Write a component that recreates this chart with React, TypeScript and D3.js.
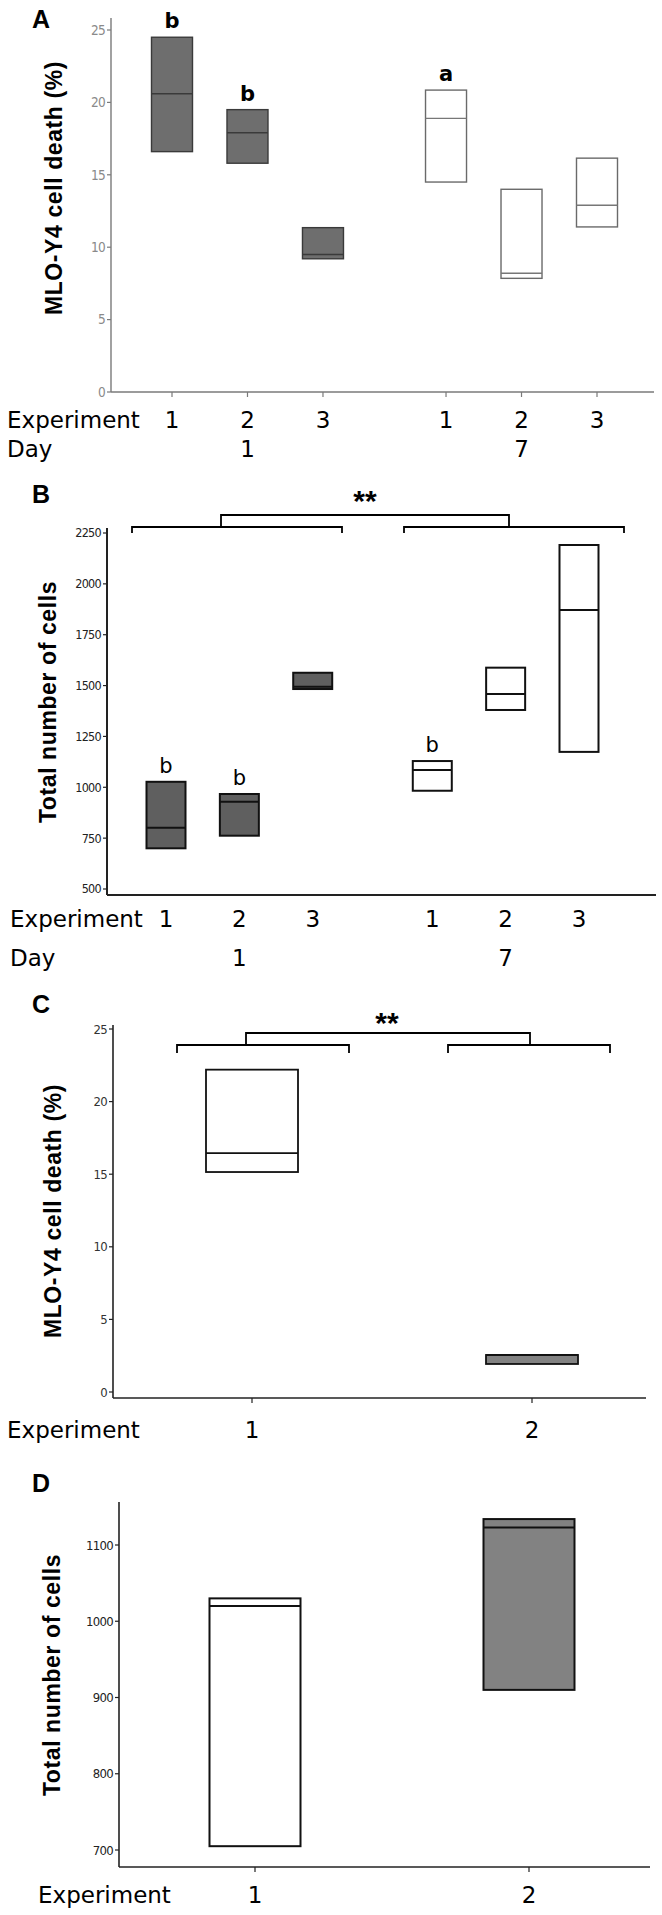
import React from "react";
import * as d3 from "d3";

// ---------- data ----------
const expLabels6 = ["1", "2", "3", "1", "2", "3"];
const groupOf6 = [0, 0, 0, 1, 1, 1];
const idxIn6 = [0, 1, 2, 0, 1, 2];
const dayLabels = ["1", "7"];

// Panel A: MLO-Y4 cell death (%)
const aLow = [16.6, 15.8, 9.2, 14.5, 7.85, 11.4];
const aMed = [20.6, 17.9, 9.5, 18.9, 8.2, 12.9];
const aHigh = [24.5, 19.5, 11.35, 20.85, 14.0, 16.15];
const aLetters = ["b", "b", "", "a", "", ""];
const aTicks = [0, 5, 10, 15, 20, 25];

// Panel B: Total number of cells
const bLow = [700, 762, 1483, 983, 1380, 1174];
const bMed = [801, 929, 1494, 1085, 1459, 1872];
const bHigh = [1027, 967, 1563, 1129, 1588, 2191];
const bLetters = ["b", "b", "", "b", "", ""];
const bTicks = [500, 750, 1000, 1250, 1500, 1750, 2000, 2250];

// Panel C: MLO-Y4 cell death (%)
const expLabels2 = ["1", "2"];
const cLow = [15.15, 1.93];
const cMed = [16.45, 2.55];
const cHigh = [22.2, 2.55];
const cTicks = [0, 5, 10, 15, 20, 25];

// Panel D: Total number of cells
const dLow = [705, 910];
const dMed = [1020, 1123];
const dHigh = [1030, 1134];
const dTicks = [700, 800, 900, 1000, 1100];

const fillA = ["#6e6e6e", "#6e6e6e", "#6e6e6e", "none", "none", "none"];
const fillB = ["#5f5f5f", "#5f5f5f", "#5f5f5f", "none", "none", "none"];
const fillC = ["none", "#828282"];
const fillD = ["none", "#828282"];

const SANS = "'Liberation Sans', Arial, sans-serif";
const DJ = "'DejaVu Sans', Verdana, sans-serif";
const DJC = "'DejaVu Sans Condensed', 'DejaVu Sans', sans-serif";

type PanelProps = {
  letter: string;
  letterY: number;
  title: string;
  titleX: number;
  titleY: number;
  axisX: number;
  axisTop: number;
  axisBottom: number;
  xAxisY: number;
  xAxisRight: number;
  y: d3.ScaleLinear<number, number>;
  ticks: number[];
  xs: number[];
  xLabels: string[];
  boxW: number;
  low: number[];
  med: number[];
  high: number[];
  fills: string[];
  stroke: string;
  openStroke: string;
  medStroke: string[];
  strokeW: number;
  axisColor: string;
  axisW: number;
  tickColor: string;
  tickFont: number;
  letters?: string[];
  letterBold?: boolean;
  expLabelY: number;
  expLabelX: number;
  xTicks: boolean;
  dayY?: number;
  dayXs?: number[];
};

function Panel(p: PanelProps) {
  return (
    <g>
      <text x={32} y={p.letterY} fontFamily={SANS} fontWeight="bold" fontSize={25} fill="#000">
        {p.letter}
      </text>
      <text
        transform={`translate(${p.titleX},${p.titleY}) rotate(-90)`}
        textAnchor="middle"
        fontFamily={SANS}
        fontWeight="bold"
        fontSize={23}
        letterSpacing={0.6}
        fill="#000"
      >
        {p.title}
      </text>
      {/* y axis */}
      <line x1={p.axisX} x2={p.axisX} y1={p.axisTop} y2={p.axisBottom} stroke={p.axisColor} strokeWidth={p.axisW} />
      {p.ticks.map((t) => (
        <g key={t}>
          <line x1={p.axisX - 4} x2={p.axisX} y1={p.y(t)} y2={p.y(t)} stroke={p.axisColor} strokeWidth={1.2} />
          <text
            x={p.axisX - 6}
            y={p.y(t)}
            dy="0.35em"
            textAnchor="end"
            fontFamily={DJC}
            fontSize={p.tickFont}
            fill={p.tickColor}
            letterSpacing={-0.7}
          >
            {t}
          </text>
        </g>
      ))}
      {/* x axis */}
      <line x1={p.axisX} x2={p.xAxisRight} y1={p.xAxisY} y2={p.xAxisY} stroke={p.axisColor} strokeWidth={p.axisW} />
      {p.xTicks &&
        p.xs.map((x, i) => (
          <line key={i} x1={x} x2={x} y1={p.xAxisY} y2={p.xAxisY + 5} stroke={p.axisColor} strokeWidth={1.2} />
        ))}
      {/* boxes */}
      {p.xs.map((x, i) => {
        const top = p.y(p.high[i]);
        const bot = p.y(p.low[i]);
        const filled = p.fills[i] !== "none";
        return (
          <g key={"b" + i}>
            <rect
              x={x - p.boxW / 2}
              y={top}
              width={p.boxW}
              height={bot - top}
              fill={filled ? p.fills[i] : "#fff"}
              stroke={filled ? p.stroke : p.openStroke}
              strokeWidth={p.strokeW}
            />
            <line
              x1={x - p.boxW / 2}
              x2={x + p.boxW / 2}
              y1={p.y(p.med[i])}
              y2={p.y(p.med[i])}
              stroke={p.medStroke[i]}
              strokeWidth={p.strokeW}
            />
            {p.letters && p.letters[i] && (
              <text
                x={x}
                y={top - 9}
                textAnchor="middle"
                fontFamily={DJ}
                fontWeight={p.letterBold ? "bold" : "normal"}
                fontSize={21}
                fill="#000"
              >
                {p.letters[i]}
              </text>
            )}
          </g>
        );
      })}
      {/* category labels */}
      <text x={p.expLabelX} y={p.expLabelY} fontFamily={DJ} fontSize={23} fill="#000">
        Experiment
      </text>
      {p.xs.map((x, i) => (
        <text key={"l" + i} x={x} y={p.expLabelY} textAnchor="middle" fontFamily={DJ} fontSize={23} fill="#000">
          {p.xLabels[i]}
        </text>
      ))}
      {p.dayY !== undefined && p.dayXs && (
        <g>
          <text x={p.expLabelX} y={p.dayY} fontFamily={DJ} fontSize={23} fill="#000">
            Day
          </text>
          {p.dayXs.map((x, i) => (
            <text key={"d" + i} x={x} y={p.dayY} textAnchor="middle" fontFamily={DJ} fontSize={23} fill="#000">
              {dayLabels[i]}
            </text>
          ))}
        </g>
      )}
    </g>
  );
}

function Bracket({ x1, x2, y, h }: { x1: number; x2: number; y: number; h: number }) {
  return (
    <path
      d={`M${x1},${y + h} L${x1},${y} L${x2},${y} L${x2},${y + h}`}
      fill="none"
      stroke="#000"
      strokeWidth={1.8}
    />
  );
}

export default function App() {
  const slot = (i: number) => groupOf6[i] * 3.63 + idxIn6[i];

  // Panel A
  const xA = d3.scaleLinear().domain([0, 5.63]).range([172, 597]);
  const yA = d3.scaleLinear().domain([0, 25]).range([392, 30]);
  const xsA = expLabels6.map((_, i) => xA(slot(i)));

  // Panel B
  const xB = d3.scaleLinear().domain([0, 5.63]).range([166, 579]);
  const yB = d3.scaleLinear().domain([500, 2250]).range([889, 533]);
  const xsB = expLabels6.map((_, i) => xB(slot(i)));

  // Panel C
  const xC = d3.scalePoint<string>().domain(expLabels2).range([252, 532]);
  const yC = d3.scaleLinear().domain([0, 25]).range([1392, 1029]);
  const xsC = expLabels2.map((l) => xC(l) as number);

  // Panel D
  const xD = d3.scalePoint<string>().domain(expLabels2).range([255, 529]);
  const yD = d3.scaleLinear().domain([700, 1100]).range([1850, 1545]);
  const xsD = expLabels2.map((l) => xD(l) as number);

  return (
    <svg
      width={662}
      height={1915}
      viewBox="0 0 662 1915"
      style={{ position: "absolute", left: 0, top: 0, background: "#fff" }}
    >
      <rect x={0} y={0} width={662} height={1915} fill="#fff" />
      <Panel
        letter="A"
        letterY={28}
        title="MLO-Y4  cell death (%)"
        titleX={62}
        titleY={188}
        axisX={111}
        axisTop={18}
        axisBottom={392}
        xAxisY={392}
        xAxisRight={654}
        y={yA}
        ticks={aTicks}
        xs={xsA}
        xLabels={expLabels6}
        boxW={41}
        low={aLow}
        med={aMed}
        high={aHigh}
        fills={fillA}
        stroke="#3a3a3a"
        openStroke="#6a6a6a"
        medStroke={["#3a3a3a", "#3a3a3a", "#3a3a3a", "#777", "#777", "#777"]}
        strokeW={1.4}
        axisColor="#7a7a7a"
        axisW={1.4}
        tickColor="#8a8a8a"
        tickFont={13.5}
        letters={aLetters}
        letterBold={true}
        expLabelY={428}
        expLabelX={7}
        xTicks={true}
        dayY={457}
        dayXs={[xsA[1], xsA[4]]}
      />
      <Panel
        letter="B"
        letterY={503}
        title="Total number of cells"
        titleX={56}
        titleY={702}
        axisX={107}
        axisTop={528}
        axisBottom={895}
        xAxisY={895}
        xAxisRight={656}
        y={yB}
        ticks={bTicks}
        xs={xsB}
        xLabels={expLabels6}
        boxW={39}
        low={bLow}
        med={bMed}
        high={bHigh}
        fills={fillB}
        stroke="#111"
        openStroke="#111"
        medStroke={["#111", "#111", "#111", "#111", "#111", "#111"]}
        strokeW={2}
        axisColor="#222"
        axisW={2}
        tickColor="#222"
        tickFont={12.5}
        letters={bLetters}
        letterBold={false}
        expLabelY={927}
        expLabelX={10}
        xTicks={false}
        dayY={966}
        dayXs={[xsB[1], xsB[4]]}
      />
      <text x={365} y={511} textAnchor="middle" fontFamily={SANS} fontWeight="bold" fontSize={30}>
        **
      </text>
      <Bracket x1={132} x2={342} y={527} h={6} />
      <Bracket x1={404} x2={624} y={527} h={6} />
      <Bracket x1={221} x2={509} y={515} h={12} />

      <Panel
        letter="C"
        letterY={1013}
        title="MLO-Y4  cell death (%)"
        titleX={61}
        titleY={1211}
        axisX={113}
        axisTop={1025}
        axisBottom={1398}
        xAxisY={1398}
        xAxisRight={646}
        y={yC}
        ticks={cTicks}
        xs={xsC}
        xLabels={expLabels2}
        boxW={92}
        low={cLow}
        med={cMed}
        high={cHigh}
        fills={fillC}
        stroke="#111"
        openStroke="#111"
        medStroke={["#111", "#111"]}
        strokeW={1.8}
        axisColor="#222"
        axisW={1.6}
        tickColor="#333"
        tickFont={13}
        expLabelY={1438}
        expLabelX={7}
        xTicks={true}
      />
      <text x={387} y={1033} textAnchor="middle" fontFamily={SANS} fontWeight="bold" fontSize={30}>
        **
      </text>
      <Bracket x1={177} x2={349} y={1045} h={8} />
      <Bracket x1={448} x2={610} y={1045} h={8} />
      <Bracket x1={246} x2={530} y={1033} h={12} />

      <Panel
        letter="D"
        letterY={1492}
        title="Total number of cells"
        titleX={60}
        titleY={1675}
        axisX={119}
        axisTop={1502}
        axisBottom={1867}
        xAxisY={1867}
        xAxisRight={650}
        y={yD}
        ticks={dTicks}
        xs={xsD}
        xLabels={expLabels2}
        boxW={91}
        low={dLow}
        med={dMed}
        high={dHigh}
        fills={fillD}
        stroke="#111"
        openStroke="#111"
        medStroke={["#111", "#111"]}
        strokeW={2}
        axisColor="#222"
        axisW={1.6}
        tickColor="#222"
        tickFont={13}
        expLabelY={1903}
        expLabelX={38}
        xTicks={true}
      />
    </svg>
  );
}
